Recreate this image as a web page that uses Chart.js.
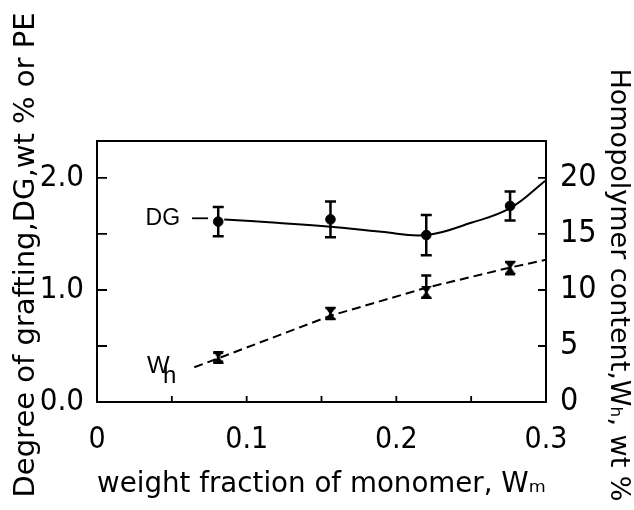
<!DOCTYPE html>
<html>
<head>
<meta charset="utf-8">
<script src="https://cdn.jsdelivr.net/npm/chart.js@4.4.1/dist/chart.umd.min.js"></script>
<style>
  html, body { margin: 0; padding: 0; background: #fff; }
  #chart { display: block; }
</style>
</head>
<body>
<canvas id="chart" width="634" height="510"></canvas>
<script>
// measured points: weight fraction of monomer
const wm = [0.081, 0.156, 0.22, 0.276];
// degree of grafting DG (left axis) and its error
const dg = [1.61, 1.63, 1.49, 1.75];
const dgErr = [0.13, 0.16, 0.18, 0.13];
// homopolymer content Wh, wt % (right axis) with error range
const wh = [4.0, 7.9, 9.8, 12.0];
const whLow = [3.6, 7.4, 9.3, 11.4];
const whHigh = [4.4, 8.4, 11.3, 12.5];
// curves as drawn through the points
const dgCurveX = [0.085, 0.12, 0.156, 0.19, 0.22, 0.25, 0.276, 0.3];
const dgCurveY = [1.63, 1.60, 1.565, 1.52, 1.49, 1.60, 1.73, 1.98];
const whCurveX = [0.065, 0.081, 0.156, 0.22, 0.276, 0.3];
const whCurveY = [3.1, 3.9, 7.7, 10.2, 12.0, 12.7];
// tick labels
const xTickLabels = ["0", "0.1", "0.2", "0.3"];
const leftTickLabels = ["0.0", "1.0", "2.0"];
const rightTickLabels = ["0", "5", "10", "15", "20"];
// axis titles
const xTitle = "weight fraction of monomer, Wₘ";
const leftTitle = "Degree of grafting,DG,wt % or PE";
const rightTitle = "Homopolymer content,Wₕ, wt %";

const tickFont = "'Liberation Sans Narrow', 'DejaVu Sans Condensed', sans-serif";
const titleFont = "'DejaVu Sans', sans-serif";

function hourglass() {
    const c = document.createElement("canvas");
    c.width = 11;
    c.height = 13;
    const g = c.getContext("2d");
    g.fillStyle = "#000";
    g.beginPath();
    g.moveTo(0, 0); g.lineTo(11, 0); g.lineTo(6.5, 6.5); g.lineTo(11, 13);
    g.lineTo(0, 13); g.lineTo(4.5, 6.5); g.closePath();
    g.fill();
    return c;
}

const pts = (xs, ys) => xs.map((v, i) => ({ x: v, y: ys[i] }));

// error bars, frame, inward ticks, side titles and the curve labels
const extras = {
    id: "extras",
    afterDatasetsDraw(chart) {
        const { ctx, chartArea: a, scales: { x, y, y2 } } = chart;
        ctx.save();
        ctx.strokeStyle = "#000";
        ctx.fillStyle = "#000";
        ctx.lineWidth = 2.5;
        const bar = (px, top, bot, w) => {
            ctx.beginPath();
            ctx.moveTo(px, top); ctx.lineTo(px, bot);
            ctx.moveTo(px - w, top); ctx.lineTo(px + w, top);
            ctx.moveTo(px - w, bot); ctx.lineTo(px + w, bot);
            ctx.stroke();
        };
        wm.forEach((v, i) => {
            const px = x.getPixelForValue(v);
            bar(px, y.getPixelForValue(dg[i] + dgErr[i]), y.getPixelForValue(dg[i] - dgErr[i]), 5.5);
            bar(px, y2.getPixelForValue(whHigh[i]), y2.getPixelForValue(whLow[i]), 5);
        });

        // frame
        ctx.lineWidth = 2;
        ctx.strokeRect(a.left, a.top, a.right - a.left, a.bottom - a.top);

        // inward ticks
        ctx.lineWidth = 1.8;
        ctx.beginPath();
        x.ticks.forEach(t => {
            const px = x.getPixelForValue(t.value);
            ctx.moveTo(px, a.bottom); ctx.lineTo(px, a.bottom - 6);
        });
        y.ticks.forEach(t => {
            const py = y.getPixelForValue(t.value);
            ctx.moveTo(a.left, py); ctx.lineTo(a.left + 10, py);
        });
        y2.ticks.forEach(t => {
            const py = y2.getPixelForValue(t.value);
            ctx.moveTo(a.right, py); ctx.lineTo(a.right - 8, py);
        });
        ctx.stroke();

        // side titles
        ctx.textAlign = "center";
        ctx.textBaseline = "middle";
        ctx.font = "29px " + titleFont;
        ctx.save();
        ctx.translate(26, 255);
        ctx.rotate(-Math.PI / 2);
        ctx.fillText(leftTitle, 0, 0);
        ctx.restore();
        ctx.font = "27px " + titleFont;
        ctx.save();
        ctx.translate(618, 285);
        ctx.rotate(Math.PI / 2);
        ctx.fillText(rightTitle, 0, 0);
        ctx.restore();

        // "DG —" tag
        const dgx = x.getPixelForValue(0.0555);
        const dgy = y.getPixelForValue(1.64);
        ctx.font = "23px 'Liberation Sans Narrow', sans-serif";
        ctx.textAlign = "right";
        ctx.fillText("DG", dgx, dgy);
        ctx.beginPath();
        ctx.moveTo(dgx + 12, dgy); ctx.lineTo(dgx + 28, dgy);
        ctx.stroke();

        // "Wh" tag
        const whx = x.getPixelForValue(0.0334);
        const why = y2.getPixelForValue(3.2);
        ctx.font = "24px 'Liberation Sans', sans-serif";
        ctx.textAlign = "left";
        ctx.fillText("W", whx, why);
        ctx.fillText("h", whx + 16, why + 10);
        ctx.restore();
    }
};

new Chart(document.getElementById("chart"), {
    type: "scatter",
    data: {
        datasets: [
            {
                data: pts(dgCurveX, dgCurveY),
                showLine: true,
                tension: 0.4,
                borderColor: "#000",
                borderWidth: 2,
                pointRadius: 0,
                yAxisID: "y"
            },
            {
                data: pts(whCurveX, whCurveY),
                showLine: true,
                borderColor: "#000",
                borderWidth: 2,
                borderDash: [9, 5],
                pointRadius: 0,
                yAxisID: "y2"
            },
            {
                data: pts(wm, dg),
                pointStyle: "circle",
                pointRadius: 4.8,
                backgroundColor: "#000",
                borderColor: "#000",
                yAxisID: "y"
            },
            {
                data: pts(wm, wh),
                pointStyle: hourglass(),
                yAxisID: "y2"
            }
        ]
    },
    options: {
        responsive: false,
        animation: false,
        layout: { padding: { top: 141 } },
        plugins: { legend: { display: false }, tooltip: { enabled: false } },
        scales: {
            x: {
                type: "linear",
                min: 0,
                max: 0.3,
                afterFit: s => { s.height = 108; },
                grid: { display: false },
                border: { display: false },
                ticks: {
                    stepSize: 0.05,
                    includeBounds: false,
                    autoSkip: false,
                    maxRotation: 0,
                    padding: 12,
                    color: "#000",
                    font: { family: tickFont, size: 30 },
                    callback: v => {
                        const k = Math.round(v * 20);
                        return k % 2 === 0 ? xTickLabels[k / 2] : "";
                    }
                },
                title: {
                    display: true,
                    text: xTitle,
                    color: "#000",
                    font: { family: titleFont, size: 28 },
                    padding: { top: 0, bottom: 8 }
                }
            },
            y: {
                position: "left",
                min: 0,
                max: 2.33,
                afterFit: s => { s.width = 97; },
                grid: { display: false },
                border: { display: false },
                ticks: {
                    stepSize: 0.5,
                    includeBounds: false,
                    padding: 5,
                    color: "#000",
                    font: { family: tickFont, size: 31 },
                    callback: v => {
                        const k = Math.round(v * 2);
                        return k % 2 === 0 ? leftTickLabels[k / 2] : "";
                    }
                }
            },
            y2: {
                position: "right",
                min: 0,
                max: 23.3,
                afterFit: s => { s.width = 88; },
                grid: { display: false },
                border: { display: false },
                ticks: {
                    stepSize: 5,
                    includeBounds: false,
                    padding: 6,
                    color: "#000",
                    font: { family: tickFont, size: 32 },
                    callback: v => rightTickLabels[Math.round(v / 5)]
                }
            }
        }
    },
    plugins: [extras]
});
</script>
</body>
</html>
